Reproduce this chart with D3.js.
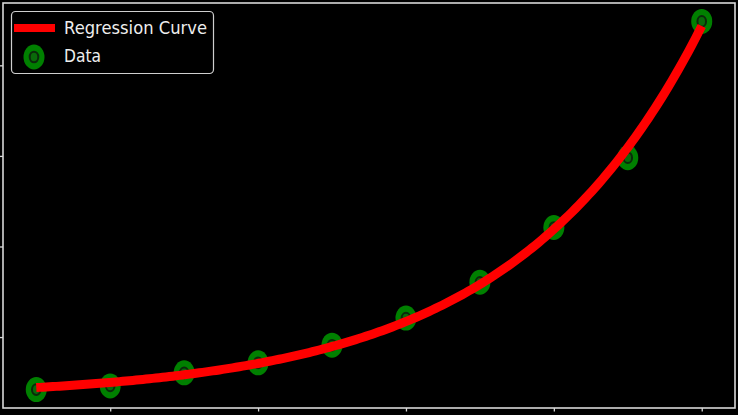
<!DOCTYPE html>
<html>
<head>
<meta charset="utf-8">
<script src="https://cdn.jsdelivr.net/npm/d3@7"></script>
<style>
html,body{margin:0;padding:0;background:#000;}
svg{display:block;}
</style>
</head>
<body>
<svg id="chart" width="738" height="415"></svg>
<script>
// Data
const xValues = [1, 2, 3, 4, 5, 6, 7, 8, 9, 10];
const yValues = [0.84, 0.92, 1.21, 1.43, 1.82, 2.42, 3.21, 4.42, 5.96, 8.97];
const xTicks = [2, 4, 6, 8, 10];
const yTicks = [2, 4, 6, 8];
const legendLabels = ["Regression Curve", "Data"];

const W = 738, H = 415;
const m = {left: 3, right: 3, top: 3, bottom: 7};
const svg = d3.select("#chart");
svg.append("rect").attr("width", W).attr("height", H).attr("fill", "#000");

// matplotlib-like 5% margins
const xExt = d3.extent(xValues), yExt = d3.extent(yValues);
const xPad = (xExt[1] - xExt[0]) * 0.05, yPad = (yExt[1] - yExt[0]) * 0.05;
const x = d3.scaleLinear().domain([xExt[0] - xPad, xExt[1] + xPad]).range([m.left, W - m.right]);
const y = d3.scaleLinear().domain([yExt[0] - yPad, yExt[1] + yPad]).range([H - m.bottom, m.top]);

const frameColor = "#d8d8d8";

// Axes
const xAxis = d3.axisBottom(x).tickValues(xTicks).tickSize(3.5).tickFormat("");
const gx = svg.append("g").attr("transform", `translate(0,${H - m.bottom})`).call(xAxis);
const yAxis = d3.axisLeft(y).tickValues(yTicks).tickSize(3.5).tickFormat("");
const gy = svg.append("g").attr("transform", `translate(${m.left},0)`).call(yAxis);
[gx, gy].forEach(g => {
  g.select(".domain").remove();
  g.selectAll(".tick line").attr("stroke", frameColor).attr("stroke-width", 1.3);
});

// Frame
svg.append("rect")
  .attr("x", m.left).attr("y", m.top)
  .attr("width", W - m.left - m.right).attr("height", H - m.top - m.bottom)
  .attr("fill", "none").attr("stroke", frameColor).attr("stroke-width", 1.6);

const data = xValues.map((v, i) => ({x: v, y: yValues[i]}));

// Exponential least-squares regression y = a + b*exp(c*x), fitted from the data
function fitExp(xs, ys) {
  let best = null;
  for (let c = 0.01; c <= 1.5; c += 0.0005) {
    const e = xs.map(v => Math.exp(c * v));
    const me = d3.mean(e), my = d3.mean(ys);
    let sxy = 0, sxx = 0;
    e.forEach((ev, i) => { sxy += (ev - me) * (ys[i] - my); sxx += (ev - me) ** 2; });
    const b = sxy / sxx, a = my - b * me;
    const sse = d3.sum(e, (ev, i) => (ys[i] - (a + b * ev)) ** 2);
    if (!best || sse < best.sse) best = {a, b, c, sse};
  }
  return best;
}
const fit = fitExp(xValues, yValues);
const curveX = d3.range(0, 201).map(i => xExt[0] + (xExt[1] - xExt[0]) * i / 200);
const curveData = curveX.map(v => ({x: v, y: fit.a + fit.b * Math.exp(fit.c * v)}));

// Markers
const rx = 10.5, ry = 12.5;
function drawMarker(g) {
  g.append("ellipse").attr("rx", rx).attr("ry", ry).attr("fill", "#008000");
  g.append("ellipse").attr("rx", 4.3).attr("ry", 5.3)
    .attr("fill", "#0a6a0a").attr("stroke", "#0b2a0b").attr("stroke-width", 2);
}
svg.append("g").selectAll("g").data(data).join("g")
  .attr("transform", d => `translate(${x(d.x)},${y(d.y)})`)
  .each(function() { drawMarker(d3.select(this)); });

// Regression curve
const line = d3.line().x(d => x(d.x)).y(d => y(d.y));
svg.append("path").datum(curveData)
  .attr("d", line)
  .attr("fill", "none").attr("stroke", "#ff0000").attr("stroke-width", 9)
  .attr("stroke-linecap", "butt").attr("stroke-linejoin", "round");

// Legend
const lg = svg.append("g");
lg.append("rect").attr("x", 11.5).attr("y", 11.5).attr("width", 202).attr("height", 62)
  .attr("rx", 4).attr("fill", "#000").attr("stroke", "#cfcfcf").attr("stroke-width", 1.2);
lg.append("line").attr("x1", 14).attr("x2", 55).attr("y1", 28).attr("y2", 28)
  .attr("stroke", "#ff0000").attr("stroke-width", 8);
const lm = lg.append("g").attr("transform", "translate(34,57)");
drawMarker(lm);
lg.append("text").attr("x", 64).attr("y", 34)
  .attr("font-family", "DejaVu Sans").attr("font-size", 18).attr("fill", "#eeeeee")
  .attr("textLength", 143).attr("lengthAdjust", "spacingAndGlyphs")
  .text(legendLabels[0]);
lg.append("text").attr("x", 64).attr("y", 62)
  .attr("font-family", "DejaVu Sans").attr("font-size", 18).attr("fill", "#eeeeee")
  .attr("textLength", 37).attr("lengthAdjust", "spacingAndGlyphs")
  .text(legendLabels[1]);
</script>
</body>
</html>
